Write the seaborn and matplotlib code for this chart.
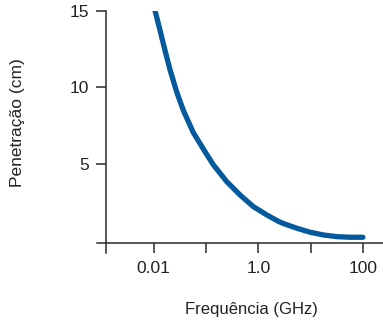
import matplotlib
matplotlib.use("Agg")
import matplotlib.pyplot as plt
import seaborn as sns
import pandas as pd

freq_ghz = [0.0106, 0.0132, 0.01645, 0.0205, 0.0275, 0.0368, 0.0571, 0.0957,
            0.138, 0.249, 0.447, 0.802, 1.448, 2.41, 3.01, 5.42, 9.74, 17.5, 31.6, 56.7, 100]
penetracao_cm = [15.0, 13.72, 12.4, 11.15, 9.7, 8.5, 7.05, 5.8,
                 4.95, 3.85, 2.98, 2.22, 1.68, 1.26, 1.12, 0.81, 0.55, 0.37, 0.26, 0.22, 0.22]
x_ticks = [0.01, 0.1, 1, 10, 100]
x_tick_labels = ["0.01", "", "1.0", "", "100"]
y_ticks = [5, 10, 15]
y_tick_labels = ["5", "10", "15"]

sns.set_style("ticks")
plt.rcParams["font.family"] = ["Liberation Sans", "DejaVu Sans"]

text_color = "#222222"
line_color = "#2a2a2a"
curve_color = "#045a9c"

df = pd.DataFrame({"f": freq_ghz, "p": penetracao_cm})

fig = plt.figure(figsize=(3.83, 3.2), dpi=100)
ax = fig.add_axes([0.2533, 0.2097, 0.7467, 0.7569])
sns.lineplot(data=df, x="f", y="p", ax=ax, color=curve_color, linewidth=3.8,
             solid_capstyle="round", solid_joinstyle="round")
ax.set_xscale("log")
ax.set_xlim(0.000824, 242)
ax.set_ylim(-0.8, 15)

ax.spines["top"].set_visible(False)
ax.spines["right"].set_visible(False)
ax.spines["left"].set_position(("data", 0.001224))
ax.spines["bottom"].set_position(("data", -0.17))
for s in ("left", "bottom"):
    ax.spines[s].set_color(line_color)
    ax.spines[s].set_linewidth(1.1)

ax.set_xticks(x_ticks)
ax.set_xticklabels(x_tick_labels)
ax.minorticks_off()
ax.set_yticks(y_ticks)
ax.set_yticklabels(y_tick_labels)
ax.tick_params(axis="both", direction="out", length=7, width=1.1, color=line_color,
               labelcolor=text_color, labelsize=12.5)
ax.tick_params(axis="x", pad=6)
ax.tick_params(axis="y", pad=5)

ax.set_xlabel("Frequência (GHz)", fontsize=12, color=text_color)
ax.set_ylabel("Penetração (cm)", fontsize=12.5, color=text_color)
ax.xaxis.set_label_coords(0.540, -0.2015)
ax.yaxis.set_label_coords(-0.252, 0.536)

fig.savefig("out.png", dpi=100)
